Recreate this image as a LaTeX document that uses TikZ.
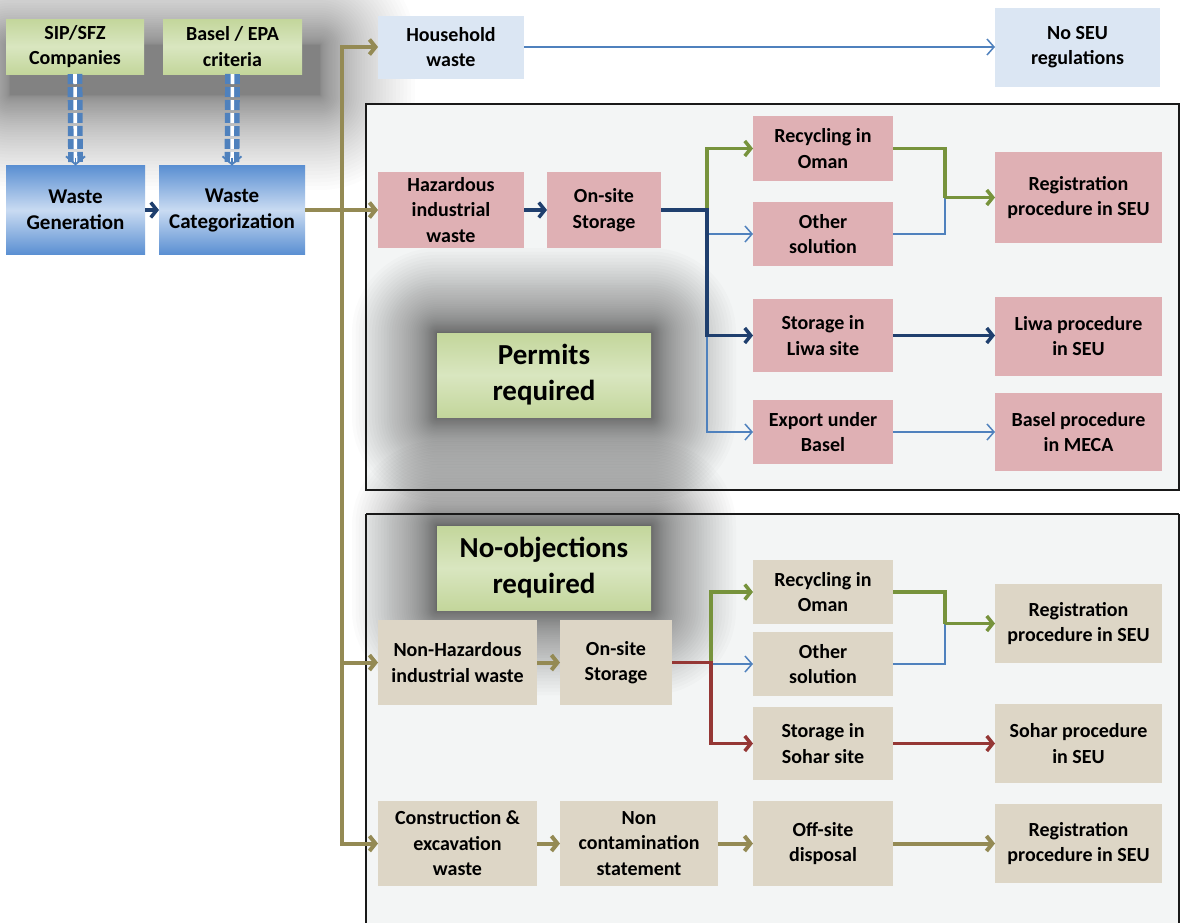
\documentclass[tikz,border=0pt]{standalone}
\usepackage{fontspec}
\setmainfont{Carlito}
\usetikzlibrary{arrows.meta}
\definecolor{olv}{HTML}{948A54}
\definecolor{navy}{HTML}{1F3F6E}
\definecolor{thinblue}{HTML}{4F81BD}
\definecolor{grn}{HTML}{77933C}
\definecolor{rd}{HTML}{953735}
\definecolor{pnk}{HTML}{DFB0B4}
\definecolor{bge}{HTML}{DDD6C6}
\definecolor{lblue}{HTML}{DBE6F3}
\definecolor{gdark}{HTML}{C3D69B}
\definecolor{glight}{HTML}{D9E6C0}
\definecolor{bdark}{HTML}{5A8FD2}
\definecolor{blight}{HTML}{C9DBF2}
\definecolor{framefill}{HTML}{F3F5F5}
\newcommand\myglow[6]{%
  \foreach \i in {1,...,48}{%
    \pgfmathsetmacro\ee{#5*(\i/48)^2}%
    \fill[black, opacity=#6, rounded corners=\ee pt] ({#1-\ee},{#2-\ee}) rectangle ({#3+\ee},{#4+\ee});
  }}
\tikzset{
  box/.style={inner sep=0pt, outer sep=0pt, align=center, font=\fontsize{20}{25.5}\selectfont\bfseries},
  pinkbox/.style={box, fill=pnk},
  beigebox/.style={box, fill=bge},
  lbbox/.style={box, fill=lblue},
  greenbox/.style={box, top color=gdark, bottom color=gdark, middle color=glight},
  bluebox/.style={box, top color=bdark, bottom color=bdark, middle color=blight, font=\fontsize{21}{26}\selectfont\bfseries},
  bigtext/.style={font=\fontsize{29}{36}\selectfont\bfseries},
  tip/.style={-{Straight Barb[length=6pt,width=15pt]}},
  olvA/.style={draw=olv, line width=4pt, tip},
  navyA/.style={draw=navy, line width=3.5pt, tip},
  greenA/.style={draw=grn, line width=3.5pt, tip},
  greenL/.style={draw=grn, line width=3.5pt},
  redA/.style={draw=rd, line width=3.5pt, tip},
  thinA/.style={draw=thinblue, line width=1.5pt, -{Straight Barb[length=7pt,width=16pt]}},
  thinL/.style={draw=thinblue, line width=1.5pt},
  dbl/.style={draw=thinblue, line width=5.6pt, double=white, double distance=3.6pt, dash pattern=on 10pt off 3pt},
  frame/.style={draw=black!90, line width=2.5pt}
}
\begin{document}
\begin{tikzpicture}[x=1pt,y=-1pt]
\useasboundingbox (0,0) rectangle (1180,922);
\fill[white] (0,0) rectangle (1180,922);
% top-left glow
\myglow{10}{45}{320}{95}{95}{0.012}
% frames fill
\fill[framefill] (366,104) rectangle (1179,490);
\fill[framefill] (366,514) rectangle (1179,930);
% glows around labels
\myglow{437}{333}{651}{417}{85}{0.015}
\myglow{437}{526}{651}{610}{85}{0.015}
% frames border
\draw[frame] (366,104) rectangle (1179,490);
\draw[frame] (366,514) -- (1179,514);
\draw[frame] (366,514) -- (366,930);
\draw[frame] (1179,514) -- (1179,930);

% nodes
\node[greenbox, minimum width=138pt, minimum height=55pt] (sip) at (75,46.5) {SIP/SFZ\\Companies};
\node[greenbox, minimum width=139pt, minimum height=55pt] (basel) at (232.5,46.5) {Basel / EPA\\criteria};
\node[bluebox, minimum width=139pt, minimum height=89pt] (gen) at (75.5,210) {Waste\\Generation};
\node[bluebox, minimum width=146pt, minimum height=89pt] (cat) at (232,210) {Waste\\Categorization};
\node[lbbox, minimum width=146pt, minimum height=63pt] (house) at (451,47) {Household\\waste};
\node[lbbox, minimum width=165pt, minimum height=79pt] (noseu) at (1077.5,47) {No SEU\\regulations};

\node[pinkbox, minimum width=146pt, minimum height=76pt] (haz) at (451,210) {Hazardous\\industrial\\waste};
\node[pinkbox, minimum width=114pt, minimum height=76pt] (ons1) at (604,210) {On-site\\Storage};
\node[pinkbox, minimum width=140pt, minimum height=65pt] (rec1) at (823,148.5) {Recycling in\\Oman};
\node[pinkbox, minimum width=140pt, minimum height=64pt] (oth1) at (823,234) {Other\\solution};
\node[pinkbox, minimum width=167pt, minimum height=91pt] (reg1) at (1078.5,197.5) {Registration\\procedure in SEU};
\node[pinkbox, minimum width=140pt, minimum height=73pt] (liwa) at (823,335.5) {Storage in\\Liwa site};
\node[pinkbox, minimum width=167pt, minimum height=79pt] (liwap) at (1078.5,336) {Liwa procedure\\in SEU};
\node[pinkbox, minimum width=140pt, minimum height=64pt] (exp) at (823,432) {Export under\\Basel};
\node[pinkbox, minimum width=167pt, minimum height=78pt] (baselp) at (1078.5,432) {Basel procedure\\in MECA};
\node[greenbox, bigtext, minimum width=214pt, minimum height=84pt] (permits) at (544,375) {Permits\\required};
\node[greenbox, bigtext, minimum width=214pt, minimum height=84pt] (noobj) at (544,568) {No-objections\\required};

\node[beigebox, minimum width=159pt, minimum height=85pt] (nonhaz) at (457.5,662.5) {Non-Hazardous\\industrial waste};
\node[beigebox, minimum width=112pt, minimum height=85pt] (ons2) at (616,662.5) {On-site\\Storage};
\node[beigebox, minimum width=140pt, minimum height=64pt] (rec2) at (823,592) {Recycling in\\Oman};
\node[beigebox, minimum width=140pt, minimum height=64pt] (oth2) at (823,664) {Other\\solution};
\node[beigebox, minimum width=167pt, minimum height=79pt] (reg2) at (1078.5,623.5) {Registration\\procedure in SEU};
\node[beigebox, minimum width=140pt, minimum height=73pt] (sohar) at (823,743.5) {Storage in\\Sohar site};
\node[beigebox, minimum width=167pt, minimum height=79pt] (soharp) at (1078.5,743.5) {Sohar procedure\\in SEU};
\node[beigebox, minimum width=159pt, minimum height=85pt] (cons) at (457.5,843.5) {Construction \&\\excavation\\waste};
\node[beigebox, minimum width=158pt, minimum height=85pt] (noncont) at (639,843.5) {Non\\contamination\\statement};
\node[beigebox, minimum width=140pt, minimum height=85pt] (offsite) at (823,843.5) {Off-site\\disposal};
\node[beigebox, minimum width=167pt, minimum height=79pt] (reg3) at (1078.5,843.5) {Registration\\procedure in SEU};

% dashed double connectors
\draw[dbl, shorten >=3pt] (sip.south) -- (gen.north);
\draw[thinblue, line width=1.8pt, -{Straight Barb[length=8pt,width=19pt]}] ([yshift=8pt]gen.north) -- (gen.north);
\draw[dbl, shorten >=3pt] (basel.south) -- (cat.north);
\draw[thinblue, line width=1.8pt, -{Straight Barb[length=8pt,width=19pt]}] ([yshift=8pt]cat.north) -- (cat.north);

% main trunk
\coordinate (tr) at (342,210);
\draw[olvA] (cat.east) -- (haz.west);
\draw[olvA] (tr) |- (house.west);
\draw[olvA] (tr) |- (nonhaz.west);
\draw[olvA] (tr) |- (cons.west);
\draw[navyA] (gen.east) -- (cat.west);
\draw[thinA] (house.east) -- (noseu.west);

% hazardous branch
\coordinate (j1) at (707,210);
\draw[navyA] (haz.east) -- (ons1.west);
\draw[greenA] (j1) |- (rec1.west);
\draw[thinA] (j1) |- (oth1.west);
\draw[thinA] (j1) |- (exp.west);
\draw[navyA] (ons1.east) -- (j1) |- (liwa.west);
\coordinate (k1) at (945,197.5);
\draw[thinL] (oth1.east) -| (k1);
\draw[greenL] (rec1.east) -| (k1);
\draw[greenA] (k1) -- (reg1.west);
\draw[navyA] (liwa.east) -- (liwa.east -| liwap.west);
\draw[thinA] (exp.east) -- (baselp.west);

% non-hazardous branch
\draw[olvA] (nonhaz.east) -- (ons2.west);
\coordinate (j2) at (711,662.5);
\draw[greenA] (j2) |- (rec2.west);
\draw[thinA] (j2) |- (oth2.west);
\draw[redA] (ons2.east) -- (j2) |- (sohar.west);
\coordinate (k2) at (945,623.5);
\draw[thinL] (oth2.east) -| (k2);
\draw[greenL] (rec2.east) -| (k2);
\draw[greenA] (k2) -- (reg2.west);
\draw[redA] (sohar.east) -- (soharp.west);

% construction branch
\draw[olvA] (cons.east) -- (noncont.west);
\draw[olvA] (noncont.east) -- (offsite.west);
\draw[olvA] (offsite.east) -- (reg3.west);
\end{tikzpicture}
\end{document}
